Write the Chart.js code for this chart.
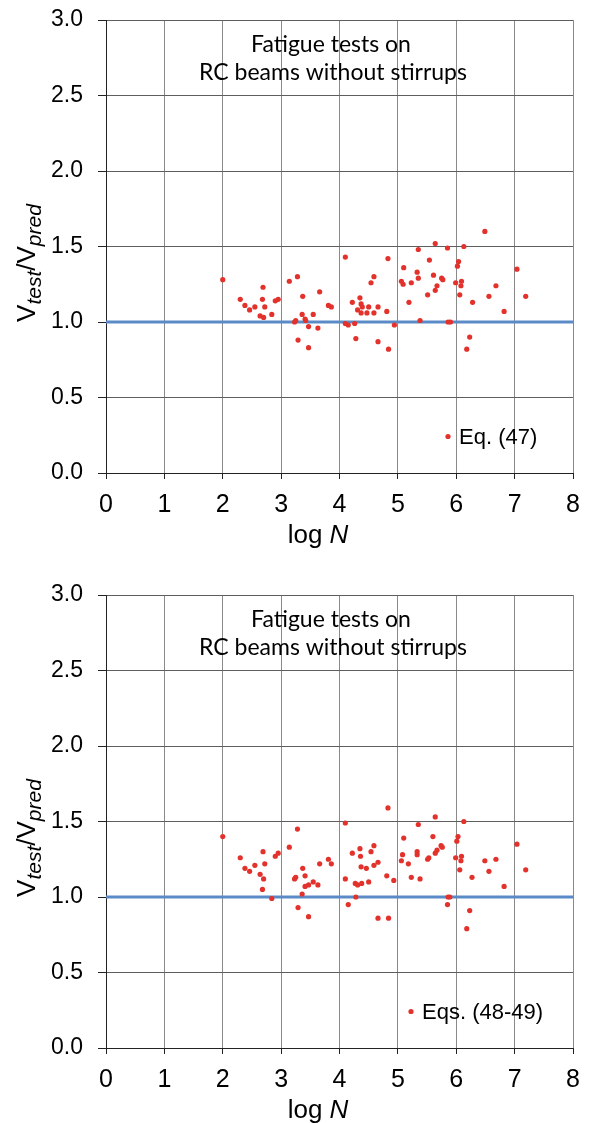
<!DOCTYPE html>
<html>
<head>
<meta charset="utf-8">
<script src="https://cdn.jsdelivr.net/npm/chart.js@4.4.0/dist/chart.umd.min.js"></script>
<style>
  html, body { margin: 0; padding: 0; background: #fff; }
  body { width: 591px; height: 1123px; overflow: hidden; position: relative; }
  .panel { position: absolute; left: 0; width: 591px; height: 575px; }
  #panel-top { top: 0; }
  #panel-bottom { top: 575px; }
</style>
</head>
<body>
<div class="panel" id="panel-top"><canvas id="chart-eq47" width="591" height="575"></canvas></div>
<div class="panel" id="panel-bottom"><canvas id="chart-eq4849" width="591" height="575"></canvas></div>
<script>
// === data ===
const titleLines = ['Fatigue tests on', 'RC beams without stirrups'];
const xTitle = ['log ', 'N'];
const yTickStep = 0.5;
const xTickStep = 1;
const refLineX = [0, 8];
const refLineY = [1.0, 1.0];

// Eq. (47)
const eq47LogN = [
  2.00, 2.30, 2.38, 2.46, 2.55, 2.69, 2.68, 2.72, 2.64, 2.70, 2.84, 2.90, 2.95,
  3.14, 3.28, 3.37, 3.36, 3.25, 3.23, 3.41, 3.42, 3.55, 3.47, 3.63, 3.29, 3.47,
  3.66, 3.81, 3.86, 4.10, 4.22, 4.35, 4.37, 4.39, 4.31, 4.37, 4.50, 4.47, 4.59,
  4.66, 4.81, 4.54, 4.59, 4.83, 4.10, 4.15, 4.26, 4.28, 4.66, 4.84, 4.94, 5.06,
  6.49, 5.64, 5.35, 5.85, 6.13, 5.10, 5.54, 5.33, 5.35, 5.09, 5.23, 5.61, 5.75,
  5.77, 5.67, 5.64, 5.51, 6.04, 6.02, 5.99, 6.09, 6.08, 6.06, 6.28, 5.19, 5.38,
  5.86, 5.90, 6.23, 6.18, 6.68, 6.56, 6.82, 7.04, 7.19
];
const eq47Ratio = [
  1.28, 1.15, 1.11, 1.08, 1.10, 1.23, 1.15, 1.10, 1.04, 1.03, 1.05, 1.14, 1.15,
  1.27, 1.30, 1.17, 1.05, 1.01, 1.00, 1.02, 1.01, 1.05, 0.97, 0.96, 0.88, 0.83,
  1.20, 1.11, 1.10, 1.43, 1.13, 1.16, 1.12, 1.10, 1.08, 1.06, 1.10, 1.06, 1.06,
  1.10, 1.07, 1.26, 1.30, 1.42, 0.99, 0.98, 0.99, 0.89, 0.87, 0.82, 0.98, 1.27,
  1.60, 1.52, 1.48, 1.49, 1.50, 1.36, 1.41, 1.33, 1.29, 1.25, 1.26, 1.31, 1.29,
  1.28, 1.24, 1.21, 1.18, 1.40, 1.37, 1.26, 1.27, 1.24, 1.18, 1.13, 1.13, 1.01,
  1.00, 1.00, 0.90, 0.82, 1.24, 1.17, 1.07, 1.35, 1.17
];

// Eqs. (48-49)
const eq4849LogN = [
  2.00, 2.30, 2.38, 2.46, 2.55, 2.69, 2.72, 2.64, 2.70, 2.68, 2.84, 2.90, 2.95,
  3.14, 3.28, 3.37, 3.23, 3.25, 3.41, 3.47, 3.41, 3.55, 3.63, 3.36, 3.29, 3.47,
  3.66, 3.81, 3.86, 4.10, 4.22, 4.35, 4.36, 4.37, 4.46, 4.54, 4.59, 4.59, 4.66,
  4.10, 4.27, 4.31, 4.38, 4.50, 4.81, 4.93, 4.83, 4.28, 4.15, 4.66, 4.84, 5.06,
  5.08, 5.10, 5.35, 5.64, 6.13, 5.60, 5.33, 5.33, 5.18, 5.23, 5.38, 5.51, 5.53,
  5.64, 5.67, 5.74, 5.76, 6.03, 6.01, 5.99, 6.09, 6.08, 6.06, 6.27, 5.86, 5.89,
  5.85, 6.23, 6.18, 6.49, 6.68, 6.56, 6.82, 7.04, 7.19
];
const eq4849Ratio = [
  1.40, 1.26, 1.19, 1.17, 1.21, 1.30, 1.22, 1.15, 1.12, 1.05, 0.99, 1.27, 1.29,
  1.33, 1.45, 1.19, 1.12, 1.13, 1.14, 1.08, 1.07, 1.10, 1.08, 1.02, 0.93, 0.87,
  1.22, 1.25, 1.22, 1.49, 1.29, 1.32, 1.27, 1.20, 1.19, 1.30, 1.34, 1.21, 1.23,
  1.12, 1.09, 1.08, 1.09, 1.10, 1.14, 1.11, 1.59, 1.00, 0.95, 0.86, 0.86, 1.24,
  1.28, 1.39, 1.48, 1.53, 1.50, 1.40, 1.30, 1.28, 1.22, 1.13, 1.12, 1.25, 1.26,
  1.29, 1.31, 1.34, 1.33, 1.40, 1.37, 1.26, 1.27, 1.24, 1.18, 1.13, 1.00, 1.00,
  0.95, 0.91, 0.79, 1.24, 1.25, 1.17, 1.07, 1.35, 1.18
];

const RED = '#e3312b';
const BLUE = '#5b8bc7';
const SANS = '"Liberation Sans", Arial, sans-serif';

// Text drawn on top of the chart: title, y-title with subscripts, x-title, legend
const figText = {
  id: 'figText',
  afterDraw(chart, args, opts) {
    const ctx = chart.ctx;
    ctx.save();
    ctx.fillStyle = '#000';

    // title
    ctx.font = '23px Lato, "Open Sans", sans-serif';
    ctx.textAlign = 'center';
    ctx.textBaseline = 'alphabetic';
    ctx.fillText(titleLines[0], 331, 52);
    ctx.fillText(titleLines[1], 333, 80);

    // y title  V_test / V_pred
    const parts = [
      { t: 'V', f: '26px ' + SANS, dy: 0 },
      { t: 'test', f: 'italic 21px ' + SANS, dy: 6 },
      { t: '/', f: '26px ' + SANS, dy: 0 },
      { t: 'V', f: '26px ' + SANS, dy: 0 },
      { t: 'pred', f: 'italic 21px ' + SANS, dy: 6 },
    ];
    ctx.save();
    ctx.translate(35, 263);
    ctx.rotate(-Math.PI / 2);
    ctx.textAlign = 'left';
    let w = 0;
    parts.forEach(p => { ctx.font = p.f; p.w = ctx.measureText(p.t).width; w += p.w; });
    let x = -w / 2;
    parts.forEach(p => { ctx.font = p.f; ctx.fillText(p.t, x, p.dy); x += p.w; });
    ctx.restore();

    // x title  log N
    ctx.textAlign = 'left';
    ctx.font = '26px ' + SANS;
    const w1 = ctx.measureText(xTitle[0]).width;
    ctx.font = 'italic 26px ' + SANS;
    const w2 = ctx.measureText(xTitle[1]).width;
    const x0 = 318 - (w1 + w2) / 2;
    ctx.font = '26px ' + SANS;
    ctx.fillText(xTitle[0], x0, 543);
    ctx.font = 'italic 26px ' + SANS;
    ctx.fillText(xTitle[1], x0 + w1, 543);

    // legend
    ctx.fillStyle = RED;
    ctx.beginPath();
    ctx.arc(opts.legendX, 436.5, 2.6, 0, Math.PI * 2);
    ctx.fill();
    ctx.fillStyle = '#000';
    ctx.font = '22px ' + SANS;
    ctx.fillText(opts.label, opts.legendX + 11, 444);
    ctx.restore();
  }
};

function makeChart(canvasId, xs, ys, label, legendX) {
  const canvas = document.getElementById(canvasId);
  const points = xs.map((v, i) => ({ x: v, y: ys[i] }));
  const ref = refLineX.map((v, i) => ({ x: v, y: refLineY[i] }));

  return new Chart(canvas, {
    type: 'scatter',
    data: {
      datasets: [
        {
          label,
          data: points,
          backgroundColor: RED,
          borderWidth: 0,
          pointRadius: 2.6,
          order: 1,
        },
        {
          type: 'line',
          label: 'ref',
          data: ref,
          borderColor: BLUE,
          borderWidth: 3,
          pointRadius: 0,
          order: 2,
        },
      ],
    },
    options: {
      responsive: false,
      animation: false,
      devicePixelRatio: 1,
      layout: { padding: { top: 20, right: 18, left: 0, bottom: 0 } },
      plugins: {
        legend: { display: false },
        tooltip: { enabled: false },
        figText: { label, legendX },
      },
      scales: {
        x: {
          type: 'linear',
          min: 0, max: 8,
          afterFit: s => { s.height = 102; },
          ticks: {
            stepSize: xTickStep,
            padding: 11,
            color: '#000',
            font: { family: SANS, size: 25 },
          },
          grid: { color: '#8a8a8a', lineWidth: 1, tickLength: 6, tickColor: '#222' },
          border: { color: '#222', width: 1 },
        },
        y: {
          min: 0, max: 3,
          afterFit: s => { s.width = 106; s.paddingTop = 0; s.paddingBottom = 0; },
          ticks: {
            stepSize: yTickStep,
            padding: 15,
            color: '#000',
            font: { family: SANS, size: 23 },
            callback: v => v.toFixed(1),
          },
          grid: { color: '#5e5e5e', lineWidth: 1, tickLength: 8, tickColor: '#222' },
          border: { color: '#222', width: 1 },
        },
      },
    },
    plugins: [figText],
  });
}

makeChart('chart-eq47', eq47LogN, eq47Ratio, 'Eq. (47)', 448);
makeChart('chart-eq4849', eq4849LogN, eq4849Ratio, 'Eqs. (48-49)', 411);
</script>
</body>
</html>
